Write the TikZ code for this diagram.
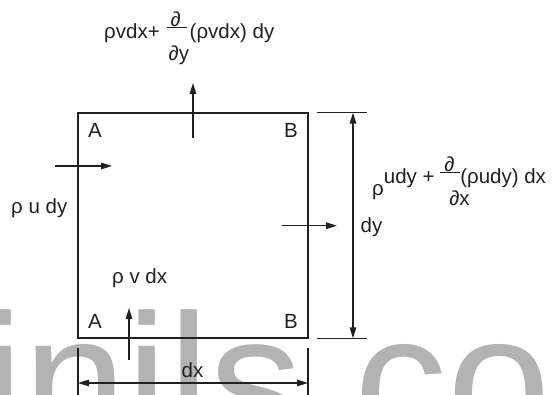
\documentclass[tikz,border=0pt]{standalone}
\usepackage{fontspec}
\setmainfont{Liberation Sans}
\usetikzlibrary{arrows.meta}
\definecolor{ink}{HTML}{231F20}
\definecolor{wmgray}{HTML}{B3B3B3}
\newcommand{\pfrac}[3]{%
  \makebox[20pt][l]{%
    \rlap{\hspace{4pt}\raisebox{12.5pt}{\itshape ∂}}%
    \rlap{\raisebox{11pt}{\rule{20pt}{0.8pt}}}%
    \rlap{\hspace{#3}\raisebox{-21.5pt}{{\itshape ∂}#2}}}}
\begin{document}
\begin{tikzpicture}[x=1pt,y=-1pt,
  lbl/.style={anchor=base west,inner sep=0pt,text=ink,font=\fontsize{20.5}{24}\selectfont},
  ln/.style={draw=ink,line width=1.4pt},
  arr/.style={ln,-{Triangle[length=11pt,width=6.5pt]}},
  dimarr/.style={ln,{Triangle[length=11pt,width=6.5pt]}-{Triangle[length=11pt,width=6.5pt]}}]
\useasboundingbox (0,0) rectangle (556,395);
\clip (0,0) rectangle (556,395);
% watermark
\node[anchor=base west,inner sep=0pt,text=wmgray,font=\fontsize{186}{186}\selectfont] (wm) at (-18,444) {inils.co};
% control volume
\node[ln,rectangle,minimum width=230pt,minimum height=225pt,inner sep=0pt] (box) at (193,225.5) {};
% corner labels
\node[lbl] (Atop) at (88,138) {A};
\node[lbl] (Btop) at (284,138) {B};
\node[lbl] (Abot) at (88,328) {A};
\node[lbl] (Bbot) at (284,328) {B};
% flux labels
\node[lbl] (topf) at (104,39) {ρvdx+\hspace{7pt}\pfrac{∂}{y}{2pt}\hspace{3pt}(ρvdx) dy};
\node[lbl] (rightf) at (372,184) {\raisebox{-11.5pt}{ρ}udy + \pfrac{∂}{x}{9pt}(ρudy) dx};
\node[lbl] (leftf) at (11,213.5) {ρ u dy};
\node[lbl] (botf) at (112,283) {ρ v dx};
\node[lbl] (dylbl) at (360.5,233) {dy};
\node[lbl] (dxlbl) at (181.5,377) {dx};
% flow arrows
\coordinate (tS) at (193,138); \coordinate (tE) at (193,83);
\coordinate (lS) at (55,166);  \coordinate (lE) at (112,166);
\coordinate (rS) at (282,225.7); \coordinate (rE) at (337,225.7);
\coordinate (bS) at (129,360); \coordinate (bE) at (129,308);
\draw[arr] (tS) -- (tE);
\draw[arr] (lS) -- (lE);
\draw[arr] (rS) -- (rE);
\draw[arr] (bS) -- (bE);
% dy dimension
\coordinate (dyT1) at (317,112.7); \coordinate (dyT2) at (367,112.7);
\coordinate (dyB1) at (317,338.3); \coordinate (dyB2) at (367,338.3);
\coordinate (dyTop) at (353,112.7); \coordinate (dyBot) at (353,338.3);
\draw[ln] (dyT1) -- (dyT2);
\draw[ln] (dyB1) -- (dyB2);
\draw[dimarr] (dyTop) -- (dyBot);
% dx dimension
\coordinate (dxL1) at (78,348); \coordinate (dxL2) at (78,395);
\coordinate (dxR1) at (308,348); \coordinate (dxR2) at (308,395);
\coordinate (dxL) at (78,383); \coordinate (dxR) at (308,383);
\draw[ln] (dxL1) -- (dxL2);
\draw[ln] (dxR1) -- (dxR2);
\draw[dimarr] (dxL) -- (dxR);
\end{tikzpicture}
\end{document}
